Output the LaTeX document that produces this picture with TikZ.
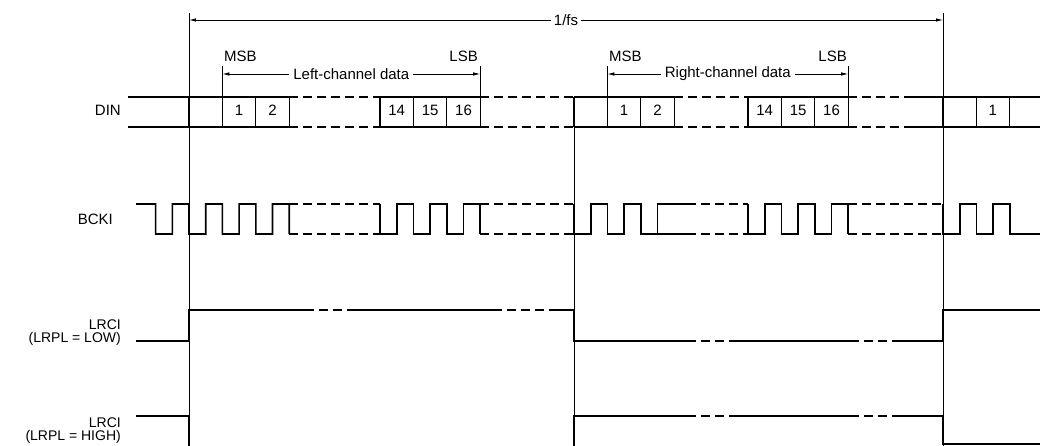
\documentclass[tikz,border=0pt]{standalone}
\usepackage{fontspec}
\setmainfont{Liberation Sans}
\usetikzlibrary{arrows.meta}
\tikzset{
	wave/.style={line width=1.6pt},
	unsure/.style={line width=1.6pt, dash pattern=on 9pt off 5pt},
	cell/.style={line width=1.2pt},
	guide/.style={line width=0.7pt},
	period/.style={line width=0.8pt, {Latex[length=7pt,width=3.5pt]}-{Latex[length=7pt,width=3.5pt]}},
	lbl/.style={font=\fontsize{15}{16}\selectfont, inner sep=0pt},
	pairlbl/.style={font=\fontsize{14}{12.5}\selectfont, inner sep=0pt, align=right, anchor=north east}
}
\def\bus[#1](#2:#3){\draw[#1] (#2,97) -- (#3,97) (#2,127) -- (#3,127);}
\def\hiz(#1:#2){\draw[unsure] (#1,204) -- (#2,204) (#1,234) -- (#2,234);}

\begin{document}
\begin{tikzpicture}[x=1pt,y=-1pt]
			%%%%% START %%%%%
			\useasboundingbox (0,0) rectangle (1040,446);
			
			\draw[guide] (189,13) -- (189,446);
			\draw[guide] (574,97) -- (574,446);
			\draw[guide] (943,13) -- (943,446);
			
			\draw[guide] (222.4,66) -- (222.4,97);
			\draw[guide] (480.2,66) -- (480.2,97);
			\draw[guide] (607.4,66) -- (607.4,97);
			\draw[guide] (848.2,66) -- (848.2,97);
			
			\coordinate (fsL) at (189,20);
			\coordinate (fsR) at (943,20);
			\draw[period] (fsL) -- node[lbl, fill=white, inner sep=3pt] (fs) {1/fs} (fsR);
			
			\coordinate (leftL) at (222.4,74);
			\coordinate (leftR) at (480.2,74);
			\draw[period] (leftL) -- node[lbl, fill=white, inner sep=4pt] (leftdata) {Left-channel data} (leftR);
			\coordinate (rightL) at (607.4,74);
			\coordinate (rightR) at (848.2,74);
			\draw[period] (rightL) -- node[lbl, fill=white, inner sep=4pt] (rightdata) {Right-channel data} (rightR);
			
			\node[lbl, anchor=base west] (msbL) at (224,62) {MSB};
			\node[lbl, anchor=base east] (lsbL) at (478,62) {LSB};
			\node[lbl, anchor=base west] (msbR) at (609,62) {MSB};
			\node[lbl, anchor=base east] (lsbR) at (847,62) {LSB};
			
			% DIN
			\node[lbl, anchor=east] (din) at (121,110) {DIN};
			\bus[wave](128:289.2)
			\bus[unsure](289.2:380)
			\bus[wave](380:480.2)
			\bus[unsure](480.2:574)
			\bus[wave](574:674.2)
			\bus[unsure](674.2:748)
			\bus[wave](748:848.2)
			\bus[unsure](848.2:913)
			\bus[wave](913:1040)
			\foreach \x in {189,222.4,255.8,289.2,380,413.4,446.8,480.2,574,607.4,640.8,674.2,748,781.4,814.8,848.2,943,976.4,1009.8}
				\draw[cell] (\x,97) -- (\x,127);
			\foreach \x/\t/\n in {239.1/1/dl1, 272.5/2/dl2, 396.7/14/dl14, 430.1/15/dl15, 463.5/16/dl16, 624.1/1/dr1, 657.5/2/dr2, 764.7/14/dr14, 798.1/15/dr15, 831.5/16/dr16, 992.7/1/dn1}
				\node[lbl] (\n) at (\x,110) {\t};
			
			% BCKI
			\node[lbl, anchor=east] (bcki) at (113,219) {BCKI};
			\draw[wave] (136,204) -- (155.6,204) \foreach \x in {155.6,189,222.4,255.8} {-- (\x,234) -- (\x+16.7,234) -- (\x+16.7,204) -- (\x+33.4,204)} -- (289.2,234);
			\hiz(289.2:380)
			\draw[wave] (380,204) -- (380,234) \foreach \x in {380,413.4,446.8} {-- (\x+16.7,234) -- (\x+16.7,204) -- (\x+33.4,204) -- (\x+33.4,234)};
			\hiz(480.2:574)
			\draw[wave] (574,204) -- (574,234) \foreach \x in {574,607.4} {-- (\x+16.7,234) -- (\x+16.7,204) -- (\x+33.4,204) -- (\x+33.4,234)} -- (657.5,234) -- (657.5,204) -- (687,204);
			\draw[wave] (657.5,234) -- (687,234);
			\hiz(687:748)
			\draw[wave] (748,204) -- (748,234) \foreach \x in {748,781.4,814.8} {-- (\x+16.7,234) -- (\x+16.7,204) -- (\x+33.4,204) -- (\x+33.4,234)};
			\hiz(848.2:943)
			\draw[wave] (943,204) -- (943,234) \foreach \x in {943,976.4} {-- (\x+16.7,234) -- (\x+16.7,204) -- (\x+33.4,204) -- (\x+33.4,234)} -- (1040,234);
			
			% LRCI, LRPL = LOW
			\node[pairlbl] (lrlow) at (121,320) {LRCI\\(LRPL = LOW)};
			\draw[wave] (136,341) -- (189,341) -- (189,310) -- (305,310);
			\draw[unsure] (305,310) -- (355,310);
			\draw[wave] (355,310) -- (493,310);
			\draw[unsure] (493,310) -- (557,310);
			\draw[wave] (557,310) -- (574,310) -- (574,341) -- (687,341);
			\draw[unsure] (687,341) -- (733,341);
			\draw[wave] (733,341) -- (850,341);
			\draw[unsure] (850,341) -- (898,341);
			\draw[wave] (898,341) -- (943,341) -- (943,310) -- (1040,310);
			
			% LRCI, LRPL = HIGH
			\node[pairlbl] (lrhigh) at (121,418) {LRCI\\(LRPL = HIGH)};
			\draw[wave] (136,416) -- (189,416) -- (189,448);
			\draw[wave] (574,448) -- (574,416) -- (687,416);
			\draw[unsure] (687,416) -- (733,416);
			\draw[wave] (733,416) -- (850,416);
			\draw[unsure] (850,416) -- (898,416);
			\draw[wave] (898,416) -- (943,416) -- (943,444) -- (1040,444);
			
			%%%%% END %%%%%
\end{tikzpicture}
\end{document}
